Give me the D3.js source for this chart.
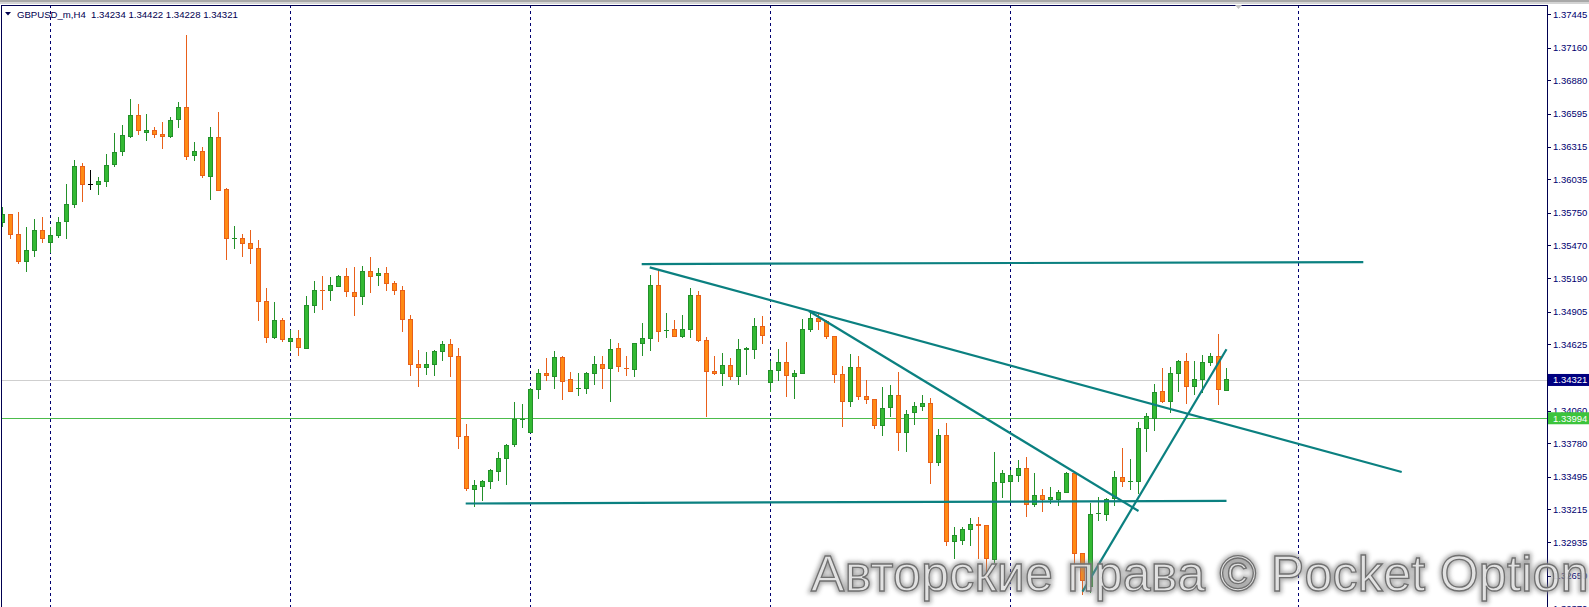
<!DOCTYPE html>
<html><head><meta charset="utf-8">
<script src="https://cdn.jsdelivr.net/npm/d3@7"></script>
<style>
html,body{margin:0;padding:0;background:#fff;overflow:hidden}
svg{display:block}
</style></head>
<body>
<svg id="c" width="1589" height="607"></svg>
<script>
// ---- data (GBPUSD_m, H4) ----
const symbol = "GBPUSD_m,H4";
const openP = [1.35667,1.35730,1.35565,1.35337,1.35428,1.35599,1.35491,1.35556,1.35676,1.35821,1.36146,1.35992,1.35992,1.36018,1.36163,1.36274,1.36402,1.36581,1.36436,1.36453,1.36419,1.36402,1.36547,1.36650,1.36240,1.36274,1.36060,1.36393,1.35949,1.35528,1.35531,1.35488,1.35445,1.34993,1.34682,1.34825,1.34651,1.34677,1.34594,1.34958,1.35089,1.35084,1.35118,1.35206,1.35069,1.35032,1.35249,1.35209,1.35232,1.35146,1.35087,1.34839,1.34452,1.34429,1.34455,1.34566,1.34625,1.34523,1.33840,1.33387,1.33410,1.33455,1.33541,1.33652,1.33774,1.33982,1.33871,1.34241,1.34378,1.34349,1.34517,1.34321,1.34241,1.34250,1.34378,1.34455,1.34418,1.34591,1.34423,1.34412,1.34631,1.34677,1.35124,1.34742,1.34753,1.34694,1.34753,1.35044,1.34662,1.34395,1.34378,1.34446,1.34349,1.34583,1.34583,1.34779,1.34301,1.34403,1.34472,1.34349,1.34375,1.34753,1.34847,1.34819,1.34694,1.34369,1.34138,1.34429,1.34181,1.34156,1.33933,1.34087,1.34190,1.33874,1.34045,1.34096,1.34121,1.33617,1.33848,1.32943,1.32951,1.33045,1.33085,1.33079,1.32789,1.33447,1.33455,1.33506,1.33566,1.33259,1.33336,1.33296,1.33296,1.33358,1.33524,1.32840,1.32556,1.33173,1.33173,1.33307,1.33489,1.33452,1.33455,1.33908,1.33993,1.34224,1.34138,1.34378,1.34480,1.34267,1.34326,1.34472,1.34523,1.34234];
const highP = [1.35801,1.35739,1.35753,1.35628,1.35693,1.35713,1.35625,1.35713,1.35995,1.36200,1.36171,1.36114,1.36055,1.36251,1.36428,1.36496,1.36721,1.36678,1.36590,1.36479,1.36524,1.36564,1.36695,1.37267,1.36351,1.36308,1.36482,1.36610,1.35958,1.35633,1.35565,1.35599,1.35514,1.35107,1.34987,1.34847,1.34748,1.34748,1.35038,1.35166,1.35209,1.35203,1.35218,1.35280,1.35289,1.35294,1.35371,1.35277,1.35283,1.35163,1.35124,1.34876,1.34577,1.34560,1.34574,1.34654,1.34671,1.34591,1.33945,1.33467,1.33467,1.33558,1.33706,1.33774,1.34133,1.34116,1.34252,1.34412,1.34511,1.34568,1.34526,1.34389,1.34378,1.34392,1.34526,1.34526,1.34671,1.34634,1.34526,1.34640,1.34808,1.35218,1.35269,1.34893,1.34833,1.34876,1.35104,1.35081,1.34685,1.34526,1.34551,1.34509,1.34671,1.34600,1.34847,1.34870,1.34483,1.34585,1.34645,1.34403,1.34842,1.34899,1.34890,1.34833,1.34694,1.34437,1.34543,1.34526,1.34321,1.34156,1.34258,1.34278,1.34386,1.34064,1.34130,1.34190,1.34170,1.33905,1.33951,1.33062,1.33062,1.33139,1.33148,1.33079,1.33703,1.33549,1.33552,1.33635,1.33663,1.33526,1.33387,1.33407,1.33378,1.33535,1.33524,1.32840,1.33273,1.33321,1.33310,1.33541,1.33743,1.33643,1.33959,1.34039,1.34287,1.34420,1.34432,1.34491,1.34551,1.34486,1.34531,1.34548,1.34714,1.34422];
const lowP = [1.35630,1.35522,1.35309,1.35240,1.35374,1.35488,1.35403,1.35531,1.35528,1.35787,1.35844,1.35946,1.35904,1.35972,1.36143,1.36237,1.36385,1.36416,1.36365,1.36391,1.36297,1.36385,1.36476,1.36197,1.36188,1.36043,1.35861,1.35941,1.35343,1.35442,1.35368,1.35309,1.34822,1.34634,1.34674,1.34642,1.34571,1.34529,1.34585,1.34896,1.34921,1.34998,1.35112,1.35027,1.34870,1.34964,1.35061,1.35126,1.35084,1.35050,1.34734,1.34358,1.34264,1.34363,1.34358,1.34486,1.34343,1.33729,1.33370,1.33239,1.33290,1.33393,1.33455,1.33427,1.33751,1.33914,1.33865,1.34161,1.34315,1.34247,1.34153,1.34218,1.34184,1.34204,1.34281,1.34247,1.34136,1.34392,1.34355,1.34349,1.34529,1.34571,1.34648,1.34679,1.34685,1.34677,1.34682,1.34642,1.34008,1.34363,1.34272,1.34321,1.34281,1.34363,1.34503,1.34628,1.34221,1.34312,1.34178,1.34161,1.34369,1.34734,1.34745,1.34671,1.34292,1.33922,1.34093,1.34153,1.34119,1.33899,1.33840,1.34005,1.33717,1.33709,1.33939,1.34059,1.33430,1.33589,1.32906,1.32795,1.32911,1.32902,1.32795,1.32612,1.32755,1.33310,1.33267,1.33447,1.33148,1.33239,1.33190,1.33259,1.33247,1.33353,1.32521,1.32484,1.32499,1.33119,1.33119,1.33247,1.33410,1.33381,1.33344,1.33703,1.33882,1.34127,1.34036,1.34215,1.34113,1.34193,1.34207,1.34443,1.34107,1.34228];
const closeP = [1.35730,1.35565,1.35337,1.35428,1.35599,1.35531,1.35556,1.35667,1.35821,1.36146,1.35992,1.35992,1.36018,1.36154,1.36265,1.36410,1.36581,1.36453,1.36453,1.36419,1.36402,1.36539,1.36650,1.36231,1.36274,1.36069,1.36393,1.35941,1.35531,1.35534,1.35488,1.35445,1.34993,1.34685,1.34825,1.34665,1.34677,1.34600,1.34958,1.35087,1.35084,1.35124,1.35206,1.35075,1.35032,1.35249,1.35203,1.35232,1.35146,1.35084,1.34839,1.34452,1.34429,1.34455,1.34566,1.34625,1.34523,1.33840,1.33393,1.33421,1.33455,1.33546,1.33652,1.33763,1.33985,1.33988,1.34241,1.34378,1.34358,1.34514,1.34306,1.34224,1.34252,1.34378,1.34455,1.34418,1.34583,1.34435,1.34412,1.34634,1.34677,1.35124,1.34736,1.34748,1.34694,1.34753,1.35044,1.34660,1.34392,1.34378,1.34446,1.34349,1.34583,1.34588,1.34779,1.34702,1.34403,1.34472,1.34361,1.34378,1.34753,1.34847,1.34819,1.34691,1.34369,1.34138,1.34429,1.34181,1.34156,1.33933,1.34079,1.34190,1.33874,1.34027,1.34096,1.34121,1.33617,1.33848,1.32943,1.32994,1.33045,1.33088,1.33079,1.32795,1.33447,1.33523,1.33506,1.33566,1.33259,1.33336,1.33301,1.33316,1.33361,1.33524,1.32840,1.32612,1.33173,1.33185,1.33304,1.33489,1.33455,1.33458,1.33908,1.34008,1.34215,1.34138,1.34378,1.34480,1.34264,1.34326,1.34474,1.34523,1.34241,1.34321];

// weekly period separators (bar index)
const separators = [6, 36, 66, 96, 126, 162];
// price scale tick labels
const tickLabels = ["1.37445","1.37160","1.36880","1.36595","1.36315","1.36035","1.35750","1.35470","1.35190","1.34905","1.34625","1.34340","1.34060","1.33780","1.33495","1.33215","1.32935","1.32650","1.32370"];
// trend lines: [barIndex1, price1, barIndex2, price2]
const trendResist = [79.9, 1.35311, 170.1, 1.35328];
const trendDown1  = [80.9, 1.35283, 174.9, 1.33535];
const trendDown2  = [100.8, 1.34910, 142.0, 1.33202];
const trendSupport= [57.9, 1.33266, 153.0, 1.33289];
const trendUp     = [135.0, 1.32513, 153.0, 1.34583];
const bidPrice = 1.34321;
const linePrice = 1.33994;
const watermark = "Авторские права © Pocket Option";

// ---- drawing ----
(function () {
const W = 1589, H = 607, axisX = 1547, topY = 5;
const svg = d3.select("#c");
const x = d3.scaleLinear().domain([0, 1]).range([2.5, 10.5]);
const y = d3.scaleLinear().domain([1.32370, 1.37445]).range([608.4, 14.2]);

const bars = openP.map((o, i) => ({i, o, h: highP[i], l: lowP[i], c: closeP[i]}));

// top gray strip
svg.append("rect").attr("x",0).attr("y",0).attr("width",W).attr("height",2).attr("fill","#a9a9a9");
svg.append("rect").attr("x",0).attr("y",2).attr("width",W).attr("height",2).attr("fill","#d4d4d4");

const defs = svg.append("defs");
defs.append("clipPath").attr("id","plot").append("rect")
  .attr("x",1).attr("y",topY).attr("width",axisX-1).attr("height",H-topY);
const plot = svg.append("g").attr("clip-path","url(#plot)");

// separators
plot.selectAll("line.sep").data(separators).join("line")
  .attr("x1", d => Math.round(x(d)-0.5)+0.5).attr("x2", d => Math.round(x(d)-0.5)+0.5)
  .attr("y1", topY).attr("y2", H)
  .attr("stroke","#000070").attr("stroke-width",1).attr("stroke-dasharray","3,3")
  .attr("shape-rendering","crispEdges");

// bid line and horizontal line
plot.append("line").attr("x1",1).attr("x2",axisX).attr("y1",Math.round(y(bidPrice))+0.5).attr("y2",Math.round(y(bidPrice))+0.5)
  .attr("stroke","#cfcfcf").attr("stroke-width",1);
plot.append("line").attr("x1",1).attr("x2",axisX).attr("y1",Math.round(y(linePrice))+0.5).attr("y2",Math.round(y(linePrice))+0.5)
  .attr("stroke","#4cbc4c").attr("stroke-width",1);

// candles
const bullFill = "#33b933", bullStroke = "#23902a", bearFill = "#ff8a14", bearStroke = "#e8601a";
const cg = plot.append("g").attr("shape-rendering","crispEdges");
const colorOf = d => d.c > d.o ? "bull" : (d.c < d.o ? "bear" : "doji");
const strokeOf = d => ({bull: bullStroke, bear: bearStroke, doji: "#000"})[colorOf(d)];
cg.selectAll("line.wick").data(bars).join("line")
  .attr("x1", d => x(d.i)).attr("x2", d => x(d.i))
  .attr("y1", d => y(d.h)).attr("y2", d => y(d.l))
  .attr("stroke", strokeOf).attr("stroke-width", 1);
cg.selectAll("rect.body").data(bars.filter(d => Math.abs(y(d.o)-y(d.c)) >= 1.5)).join("rect")
  .attr("x", d => x(d.i)-2).attr("width", 4)
  .attr("y", d => Math.min(y(d.o), y(d.c))).attr("height", d => Math.abs(y(d.o)-y(d.c)))
  .attr("fill", d => d.c > d.o ? bullFill : bearFill)
  .attr("stroke", d => d.c > d.o ? bullStroke : bearStroke).attr("stroke-width", 1);
cg.selectAll("line.flat").data(bars.filter(d => Math.abs(y(d.o)-y(d.c)) < 1.5)).join("line")
  .attr("x1", d => x(d.i)-2.5).attr("x2", d => x(d.i)+2.5)
  .attr("y1", d => y((d.o+d.c)/2)).attr("y2", d => y((d.o+d.c)/2))
  .attr("stroke", strokeOf).attr("stroke-width", 1.5);

// trend lines
const trends = [trendResist, trendDown1, trendDown2, trendSupport, trendUp];
plot.selectAll("line.trend").data(trends).join("line")
  .attr("x1", d => x(d[0])).attr("y1", d => y(d[1]))
  .attr("x2", d => x(d[2])).attr("y2", d => y(d[3]))
  .attr("stroke","#0b8080").attr("stroke-width",2.2);

// frame
svg.append("line").attr("x1",1).attr("x2",axisX).attr("y1",topY+0.5).attr("y2",topY+0.5).attr("stroke","#000050");
svg.append("line").attr("x1",1.5).attr("x2",1.5).attr("y1",topY).attr("y2",H).attr("stroke","#000050");
svg.append("line").attr("x1",axisX+0.5).attr("x2",axisX+0.5).attr("y1",topY).attr("y2",H).attr("stroke","#000050");

// price axis
const ax = svg.append("g");
ax.selectAll("line.tk").data(tickLabels).join("line")
  .attr("x1", axisX).attr("x2", axisX+4)
  .attr("y1", d => Math.round(y(+d))+0.5).attr("y2", d => Math.round(y(+d))+0.5)
  .attr("stroke","#000050");
ax.selectAll("text.tl").data(tickLabels).join("text")
  .attr("x", axisX+6).attr("y", d => y(+d)).attr("dy","0.35em")
  .attr("font-family","'Liberation Sans', Arial, sans-serif").attr("font-size","9.5px")
  .attr("fill","#000070").text(d => d);

// price boxes
function priceBox(p, bg) {
  const yy = y(p);
  ax.append("rect").attr("x", axisX+1).attr("y", yy-6).attr("width", W-axisX-1).attr("height", 12).attr("fill", bg);
  ax.append("text").attr("x", axisX+6).attr("y", yy).attr("dy","0.35em")
    .attr("font-family","'Liberation Sans', Arial, sans-serif").attr("font-size","9.5px")
    .attr("fill","#fff").text(p.toFixed(5));
}
priceBox(bidPrice, "#000080");
priceBox(linePrice, "#3cc43c");

// header
const last = bars.length - 1;
svg.append("path").attr("d","M5,12 L11,12 L8,15.5 Z").attr("fill","#000050");
svg.append("text").attr("x",17).attr("y",17.5)
  .attr("font-family","'Liberation Sans', Arial, sans-serif").attr("font-size","9.6px").attr("fill","#000050")
  .style("white-space","pre")
  .text(symbol + "  " + [openP[last], highP[last], lowP[last], closeP[last]].map(v => v.toFixed(5)).join(" "));
// shift marker
svg.append("path").attr("d","M1235,5 L1242,5 L1238.5,9 Z").attr("fill","#c4c4c4");

// watermark
defs.append("filter").attr("id","blur").attr("x","-5%").attr("y","-30%").attr("width","110%").attr("height","160%")
  .append("feGaussianBlur").attr("stdDeviation", 2.2);
const wm = svg.append("g").attr("font-family","'Liberation Sans', Arial, sans-serif").attr("font-size","50px")
  .attr("letter-spacing","0.3px");
wm.append("text").attr("x",811).attr("y",591).text(watermark)
  .attr("fill","none").attr("stroke","#8a8a8a").attr("stroke-width",5).attr("opacity",0.7).attr("filter","url(#blur)");
wm.append("text").attr("x",811).attr("y",591).text(watermark)
  .attr("fill","rgba(240,240,240,0.78)").attr("stroke","#707070").attr("stroke-width",1.3);
})();
</script>
</body></html>
